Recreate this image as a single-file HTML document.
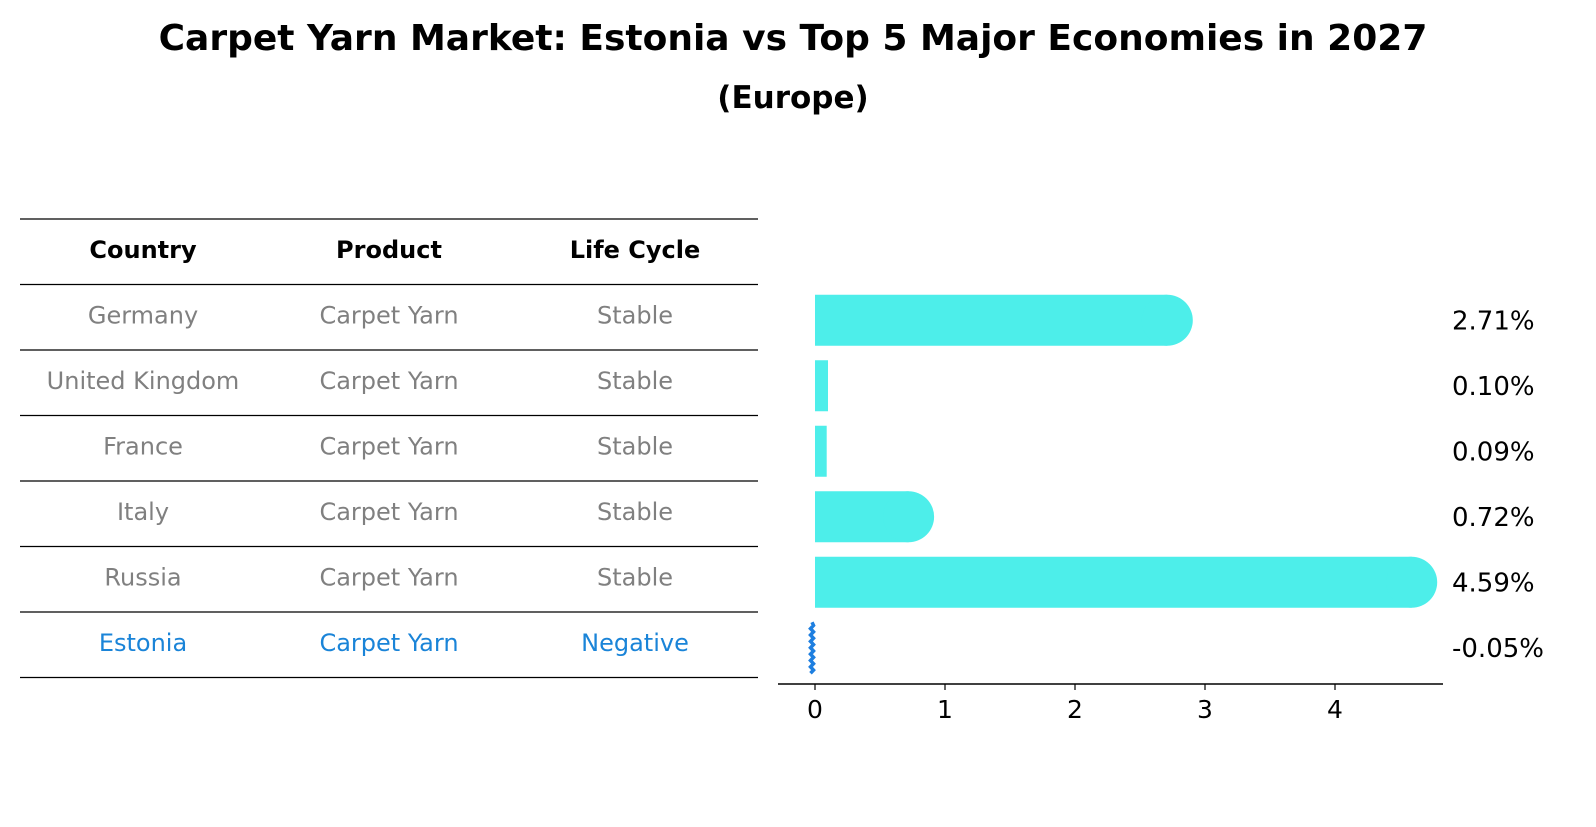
<!DOCTYPE html>
<html><head><meta charset="utf-8">
<style>
body{margin:0;background:#fff;width:1596px;height:823px;overflow:hidden;font-family:"DejaVu Sans","Liberation Sans",sans-serif;}
</style></head>
<body>
<svg id="chart" width="1596" height="823" xmlns="http://www.w3.org/2000/svg" font-family="DejaVu Sans, Liberation Sans, sans-serif">
<text x="793" y="50" text-anchor="middle" font-size="36" font-weight="bold">Carpet Yarn Market: Estonia vs Top 5 Major Economies in 2027</text>
<text x="793" y="108" text-anchor="middle" font-size="31" font-weight="bold">(Europe)</text>
<g id="table"></g>
<g id="bars"></g>
</svg>
<script>
const countries=["Germany","United Kingdom","France","Italy","Russia","Estonia"];
const products=["Carpet Yarn","Carpet Yarn","Carpet Yarn","Carpet Yarn","Carpet Yarn","Carpet Yarn"];
const lifeCycles=["Stable","Stable","Stable","Stable","Stable","Negative"];
const growth=[2.71,0.10,0.09,0.72,4.59,-0.05];
const xTicks=[0,1,2,3,4];

const NS="http://www.w3.org/2000/svg";
function mk(tag,attrs,parent,text){const e=document.createElementNS(NS,tag);for(const k in attrs)e.setAttribute(k,attrs[k]);if(text!==undefined)e.textContent=text;parent.appendChild(e);return e;}
const table=document.getElementById('table');
const bars=document.getElementById('bars');
const rowH=65.5, top0=219, tx0=20, tx1=758;
const colX=[143,389,635];
const headers=["Country","Product","Life Cycle"];
headers.forEach((h,i)=>{
  const t=mk('text',{x:colX[i],y:top0+rowH/2+6,'text-anchor':'middle','font-size':24,'font-weight':'bold'},table,h);
  
  
});
for(let i=0;i<=countries.length+1;i++){
  const l=mk('line',{x1:tx0,x2:tx1,y1:top0+i*rowH,y2:top0+i*rowH,stroke:'#000','stroke-width':1.2},table);
  
  
}
countries.forEach((c,i)=>{
  const y=top0+(i+1)*rowH+rowH/2+6;
  const col=c==="Estonia"?'#1a84d8':'#808080';
  [c,products[i],lifeCycles[i]].forEach((v,j)=>{
    const t=mk('text',{x:colX[j],y:y,'text-anchor':'middle','font-size':24,fill:col},table,v);
    
    
  });
});
const x0=815, pxPerUnit=130;
const xs=v=>x0+v*pxPerUnit;
const barH=51, r=25.5;
const axisY=684;
const ax=mk('line',{x1:778,x2:1443,y1:axisY,y2:axisY,stroke:'#000','stroke-width':1.5},bars);


xTicks.forEach(t=>{
  const tk=mk('line',{x1:xs(t),x2:xs(t),y1:axisY,y2:axisY+6,stroke:'#000','stroke-width':1.2},bars);
  
  
  const tl=mk('text',{x:xs(t),y:axisY+34,'text-anchor':'middle','font-size':25},bars,String(t));
  
  
});
growth.forEach((v,i)=>{
  const cy=top0+(i+1)*rowH+rowH/2+3;
  const g=mk('g',{},bars);
  
  
  if(v>=0){
    const w=xs(v)-x0;
    mk('rect',{x:x0,y:cy-barH/2,width:w,height:barH,fill:'#4deeea'},g);
    if(w>r) mk('circle',{cx:xs(v),cy:cy,r:r,fill:'#4deeea'},g);
  }else{
    const xe=xs(v)+3.5;
    let d='M'+xe+' '+(cy-barH/2);
    for(let k=1;k<=16;k++){d+=' L'+(xe+(k%2?1.5:-1.5))+' '+(cy-barH/2+k*barH/16);}
    mk('path',{d:d,fill:'none',stroke:'#1e7fe0','stroke-width':3.5},g);
  }
  const lbl=mk('text',{x:1452,y:cy+9,'font-size':26},bars,v.toFixed(2)+'%');
  
  
});
</script>
</body></html>
